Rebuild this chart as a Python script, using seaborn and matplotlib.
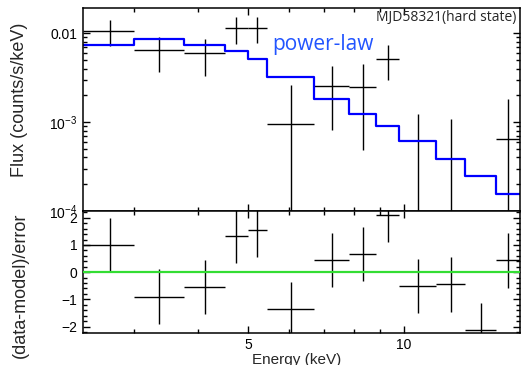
import numpy as np
import matplotlib
matplotlib.use("Agg")
import matplotlib.pyplot as plt
import seaborn as sns
from matplotlib.ticker import FixedLocator, NullFormatter, FuncFormatter, LogLocator, MultipleLocator

# spectral bins (keV)
bin_edges = [2.39, 3.00, 3.75, 4.50, 4.99, 5.43, 6.70, 7.83, 8.83, 9.78, 11.53, 13.13, 15.08, 16.77]
energy = [2.70, 3.35, 4.12, 4.74, 5.19, 6.04, 7.25, 8.33, 9.31, 10.64, 12.33, 14.10, 15.90]

# data (counts/s/keV) and 1-sigma errors
flux = [1.05e-2, 6.4e-3, 6.0e-3, 1.14e-2, 1.14e-2, 9.6e-4, 2.52e-3, 2.49e-3, 5.13e-3,
        -2.2e-5, -1.9e-4, -2.5e-3, 6.5e-4]
flux_err = [3.4e-3, 2.7e-3, 2.7e-3, 3.8e-3, 3.7e-3, 1.68e-3, 1.7e-3, 2.0e-3, 2.15e-3,
            1.27e-3, 1.28e-3, 1.3e-3, 1.19e-3]

# folded power-law model per bin
model = [7.29e-3, 8.67e-3, 7.29e-3, 6.31e-3, 5.17e-3, 3.22e-3, 1.84e-3, 1.225e-3,
         8.97e-4, 6.15e-4, 3.89e-4, 2.46e-4, 1.55e-4]

# (data-model)/error
resid = [0.99, -0.90, -0.54, 1.32, 1.54, -1.36, 0.44, 0.66, 2.11, -0.50, -0.45, -2.14, 0.43]

y_tick_labels = {1e-2: "0.01", 1e-3: "$10^{-3}$", 1e-4: "$10^{-4}$"}


def main():
    sns.set_style("ticks")
    plt.rcParams["font.family"] = ["Liberation Sans", "DejaVu Sans"]
    plt.rcParams["mathtext.default"] = "regular"

    fig, (ax, axr) = plt.subplots(2, 1, sharex=True, figsize=(5.22, 3.65), dpi=100,
                                  gridspec_kw={"height_ratios": [203, 121.5]})
    fig.subplots_adjust(left=83 / 522, right=519.5 / 522, top=1 - 8 / 365,
                        bottom=1 - 332.5 / 365, hspace=0)

    e = np.array(energy)
    edges = np.array(bin_edges)
    xerr = [e - edges[:-1], edges[1:] - e]

    # top: spectrum + model
    ax.errorbar(e, flux, yerr=flux_err, xerr=xerr, fmt="none", ecolor="black",
                elinewidth=1.0, capsize=0)
    sns.lineplot(x=edges, y=np.append(model, model[-1]), drawstyle="steps-post",
                 color="#0000ff", linewidth=1.6, ax=ax, legend=False)
    ax.set_xscale("log")
    ax.set_yscale("log", nonpositive="clip")
    ax.set_xlim(bin_edges[0], bin_edges[-1])
    ax.set_ylim(1e-4, 0.0192)
    ax.yaxis.set_major_locator(FixedLocator(list(y_tick_labels)))
    ax.yaxis.set_minor_locator(LogLocator(base=10, subs=np.arange(2, 10)))
    ax.yaxis.set_major_formatter(FuncFormatter(lambda v, p: y_tick_labels.get(v, "")))
    ax.yaxis.set_minor_formatter(NullFormatter())
    ax.set_xlabel("")
    ax.set_ylabel("")

    ax.text(0.993, 0.935, "MJD58321(hard state)", transform=ax.transAxes, ha="right",
            va="baseline", fontsize=10, family=["Open Sans", "DejaVu Sans"])
    ax.text(272 / 522, 1 - 50 / 365, "power-law", transform=fig.transFigure, ha="left",
            va="baseline", fontsize=15, color="#2255ff", family=["Open Sans", "DejaVu Sans"])

    # bottom: residuals
    axr.errorbar(e, resid, yerr=1.0, xerr=xerr, fmt="none", ecolor="black",
                 elinewidth=1.0, capsize=0)
    axr.axhline(0, color="#33dd33", linewidth=1.6, zorder=3)
    axr.set_ylim(-2.22, 2.25)
    axr.yaxis.set_major_locator(MultipleLocator(1))
    axr.yaxis.set_minor_locator(MultipleLocator(0.2))
    axr.xaxis.set_major_locator(FixedLocator([5, 10]))
    axr.xaxis.set_minor_locator(FixedLocator([3, 4, 6, 7, 8, 9]))
    axr.xaxis.set_major_formatter(FuncFormatter(lambda v, p: f"{v:g}"))
    axr.xaxis.set_minor_formatter(NullFormatter())

    for a in (ax, axr):
        a.tick_params(which="both", direction="in", top=True, right=True,
                      colors="black", labelsize=10, width=1.0)
        a.tick_params(which="major", length=5, pad=4)
        a.tick_params(which="minor", length=3)
        for s in a.spines.values():
            s.set_linewidth(1.1)
            s.set_color("black")

    fig.text(20 / 522, 1 - 100 / 365, "Flux (counts/s/keV)", rotation=90,
             ha="center", va="center", fontsize=13)
    fig.text(20 / 522, 1 - 285 / 365, "(data-model)/error", rotation=90,
             ha="center", va="center", fontsize=13)
    fig.text(297 / 522, 1 - 360 / 365, "Energy (keV)", ha="center", va="center",
             fontsize=11)

    fig.savefig("out.png", dpi=100)
    plt.close(fig)


if __name__ == "__main__":
    main()
